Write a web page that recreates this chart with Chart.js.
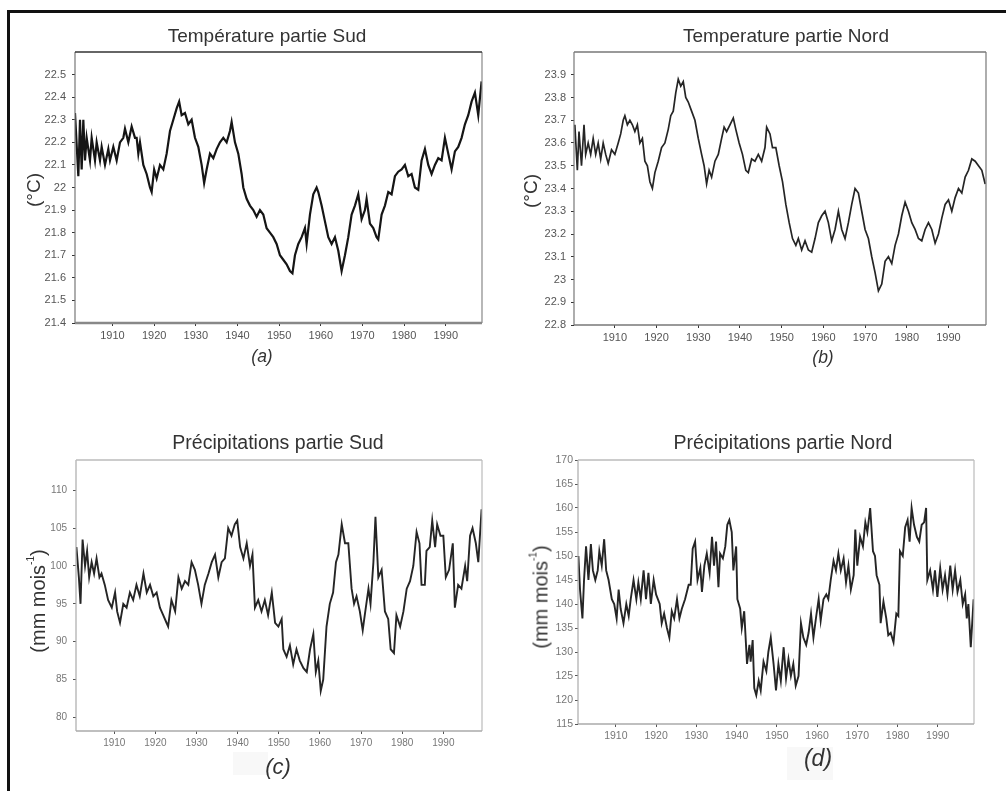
<!DOCTYPE html>
<html><head><meta charset="utf-8">
<script src="https://cdn.jsdelivr.net/npm/chart.js@4.4.1/dist/chart.umd.min.js"></script>
<style>
body{margin:0;background:#fff;width:1006px;height:791px;overflow:hidden;position:relative;font-family:"Liberation Sans",Arial,sans-serif;}
.t{position:absolute;white-space:nowrap;transform:translate(-50%,-50%);color:#333;}
.yl{position:absolute;white-space:nowrap;transform:translate(-50%,-50%) rotate(-90deg);color:#333;}
.cap{position:absolute;white-space:nowrap;transform:translate(-50%,-50%);color:#333;font-style:italic;}
canvas{position:absolute;}
#fT{position:absolute;left:7px;top:10px;width:999px;height:3px;background:#111;}
#fL{position:absolute;left:7px;top:10px;width:3px;height:781px;background:#111;}
sup{font-size:10px;vertical-align:top;position:relative;top:-2px;}
</style></head><body>
<div id="fT"></div><div id="fL"></div>

<canvas id="cA" width="480" height="310" style="left:15px;top:42px"></canvas>
<canvas id="cB" width="485" height="310" style="left:515px;top:42px"></canvas>
<canvas id="cC" width="480" height="310" style="left:15px;top:450px"></canvas>
<canvas id="cD" width="470" height="310" style="left:515px;top:450px"></canvas>

<div class="t" style="left:267px;top:36px;font-size:19px">Température partie Sud</div>
<div class="t" style="left:786px;top:36px;font-size:19px">Temperature partie Nord</div>
<div class="t" style="left:278px;top:442px;font-size:19.5px">Précipitations partie Sud</div>
<div class="t" style="left:783px;top:442px;font-size:19.5px">Précipitations partie Nord</div>

<div class="yl" style="left:34px;top:190px;font-size:19px">(°C)</div>
<div class="yl" style="left:531px;top:191px;font-size:19px">(°C)</div>
<div class="yl" style="left:38px;top:601px;font-size:20px">(mm mois<sup>-1</sup>)</div>
<div class="yl" style="left:541px;top:597px;font-size:20px">(mm mois<sup>-1</sup>)</div>

<div class="cap" style="left:262px;top:356px;font-size:17.5px">(a)</div>
<div class="cap" style="left:823px;top:357px;font-size:17.5px">(b)</div>
<div style="position:absolute;left:233px;top:752px;width:35px;height:23px;background:#f8f8f8"></div>
<div style="position:absolute;left:787px;top:747px;width:46px;height:33px;background:#f8f8f8"></div>
<div class="cap" style="left:278px;top:767px;font-size:22px">(c)</div>
<div class="cap" style="left:818px;top:758px;font-size:23px">(d)</div>

<script>
// ---------- DATA ----------
const xTicks = [1910,1920,1930,1940,1950,1960,1970,1980,1990];

const yTicksA = [21.4,21.5,21.6,21.7,21.8,21.9,22,22.1,22.2,22.3,22.4,22.5];
const yTicksB = [22.8,22.9,23,23.1,23.2,23.3,23.4,23.5,23.6,23.7,23.8,23.9];
const yTicksC = [80,85,90,95,100,105,110];
const yTicksD = [115,120,125,130,135,140,145,150,155,160,165,170];

const yearsA = [1901.0,1901.8,1902.2,1902.6,1903.0,1903.4,1903.8,1904.6,1905.0,1905.8,
1906.2,1907.0,1907.4,1908.2,1909.0,1909.4,1910.2,1911.0,1911.8,1912.6,
1913.0,1913.8,1914.6,1915.4,1915.8,1916.2,1916.6,1917.4,1918.2,1919.0,
1919.4,1920.0,1920.6,1921.4,1922.2,1923.0,1923.4,1923.8,1924.6,1925.4,
1926.0,1926.6,1927.4,1928.2,1929.0,1929.8,1930.6,1931.4,1932.0,1932.6,
1933.4,1934.2,1935.0,1935.8,1936.6,1937.4,1938.2,1938.6,1939.4,1940.2,
1941.0,1941.4,1942.2,1943.0,1943.8,1944.6,1945.4,1946.2,1947.0,1947.8,
1948.6,1949.4,1950.2,1951.0,1951.8,1952.6,1953.2,1953.8,1954.6,1955.4,
1956.2,1956.6,1957.4,1958.2,1959.0,1959.4,1960.2,1961.0,1961.8,1962.6,
1963.4,1964.2,1965.0,1965.8,1966.6,1967.4,1968.2,1969.0,1969.8,1970.6,
1971.0,1971.8,1972.6,1973.4,1973.8,1974.6,1975.4,1976.2,1977.0,1977.8,
1978.6,1979.4,1980.2,1981.0,1981.8,1982.6,1983.4,1984.2,1985.0,1985.8,
1986.6,1987.4,1988.2,1989.0,1989.8,1990.6,1991.4,1992.2,1993.0,1993.8,
1994.6,1995.4,1996.2,1997.0,1997.8,1998.6];
const tempSud = [22.33,22.05,22.30,22.08,22.30,22.12,22.22,22.12,22.22,22.12,
22.20,22.12,22.18,22.10,22.17,22.12,22.18,22.12,22.20,22.22,
22.26,22.20,22.27,22.22,22.22,22.15,22.20,22.10,22.06,22.00,
21.98,22.08,22.04,22.10,22.08,22.15,22.20,22.25,22.30,22.35,
22.38,22.32,22.33,22.28,22.30,22.22,22.18,22.10,22.02,22.08,
22.15,22.13,22.17,22.20,22.22,22.20,22.25,22.29,22.20,22.15,
22.06,22.00,21.95,21.92,21.90,21.87,21.90,21.88,21.82,21.80,
21.78,21.75,21.70,21.68,21.66,21.63,21.62,21.70,21.75,21.78,
21.82,21.75,21.88,21.97,22.00,21.98,21.92,21.85,21.78,21.75,
21.78,21.72,21.63,21.70,21.78,21.88,21.92,21.97,21.86,21.90,
21.95,21.84,21.82,21.78,21.77,21.88,21.92,21.98,21.97,22.05,
22.07,22.08,22.10,22.05,22.06,22.00,21.99,22.12,22.17,22.10,
22.06,22.10,22.13,22.12,22.22,22.15,22.08,22.16,22.18,22.22,
22.28,22.32,22.38,22.42,22.32,22.47];

const yearsB = [1900.4,1901.0,1901.4,1902.0,1902.6,1903.0,1903.6,1904.2,1904.8,1905.4,
1906.0,1906.6,1907.2,1907.8,1908.4,1909.2,1910.0,1910.8,1911.4,1912.0,
1912.4,1913.0,1913.6,1914.2,1914.8,1915.4,1916.0,1916.6,1917.2,1917.8,
1918.4,1919.0,1919.6,1920.4,1921.2,1922.0,1922.8,1923.4,1924.0,1924.6,
1925.2,1925.8,1926.4,1927.0,1927.6,1928.4,1929.2,1930.0,1930.8,1931.4,
1932.0,1932.6,1933.2,1934.0,1934.8,1935.6,1936.2,1936.8,1937.6,1938.4,
1939.0,1939.8,1940.6,1941.4,1942.0,1942.8,1943.6,1944.4,1945.2,1946.0,
1946.4,1947.2,1947.8,1948.6,1949.4,1950.2,1951.0,1951.8,1952.6,1953.4,
1954.0,1954.8,1955.6,1956.4,1957.2,1958.0,1958.8,1959.6,1960.4,1961.2,
1962.0,1962.8,1963.6,1964.4,1965.2,1966.0,1966.8,1967.6,1968.4,1969.2,
1970.0,1970.8,1971.6,1972.4,1973.2,1974.0,1974.8,1975.6,1976.4,1977.2,
1978.0,1978.8,1979.6,1980.4,1981.2,1982.0,1982.8,1983.6,1984.4,1985.2,
1986.0,1986.8,1987.6,1988.4,1989.2,1990.0,1990.8,1991.6,1992.4,1993.2,
1994.0,1994.8,1995.6,1996.4,1997.2,1998.0,1998.8];
const tempNord = [23.68,23.48,23.65,23.50,23.68,23.55,23.60,23.55,23.62,23.55,
23.60,23.53,23.60,23.55,23.51,23.57,23.55,23.60,23.64,23.70,
23.72,23.68,23.70,23.68,23.65,23.68,23.60,23.62,23.52,23.50,
23.43,23.40,23.47,23.52,23.58,23.60,23.66,23.72,23.74,23.82,
23.88,23.85,23.87,23.80,23.78,23.74,23.70,23.62,23.55,23.50,
23.42,23.48,23.45,23.52,23.55,23.62,23.67,23.65,23.68,23.71,
23.66,23.60,23.55,23.48,23.47,23.53,23.52,23.55,23.52,23.58,
23.67,23.64,23.58,23.58,23.50,23.43,23.33,23.25,23.18,23.15,
23.18,23.13,23.17,23.13,23.12,23.18,23.25,23.28,23.30,23.25,
23.17,23.22,23.30,23.22,23.18,23.25,23.33,23.40,23.38,23.30,
23.22,23.18,23.10,23.03,22.95,22.98,23.08,23.10,23.07,23.15,
23.20,23.28,23.34,23.30,23.25,23.22,23.18,23.17,23.22,23.25,
23.22,23.16,23.20,23.27,23.33,23.35,23.30,23.36,23.40,23.38,
23.45,23.48,23.53,23.52,23.50,23.48,23.42];

const yearsC = [1900.8,1901.4,1901.8,1902.3,1902.9,1903.4,1903.9,1904.5,1905.1,1905.7,
1906.4,1906.9,1907.7,1908.5,1909.4,1910.2,1910.7,1911.4,1912.2,1913.0,
1913.8,1914.6,1915.4,1916.2,1917.1,1917.9,1918.7,1919.5,1920.3,1921.1,
1921.9,1922.7,1923.1,1923.9,1924.8,1925.6,1926.4,1927.2,1928.0,1928.8,
1929.6,1930.4,1931.2,1932.0,1932.9,1933.7,1934.5,1935.3,1936.1,1936.9,
1937.7,1938.5,1939.3,1939.9,1940.6,1941.4,1942.2,1943.0,1943.6,1944.2,
1945.0,1945.8,1946.6,1947.4,1948.3,1949.1,1949.9,1950.7,1951.1,1951.9,
1952.7,1953.5,1954.3,1955.1,1956.0,1956.8,1957.6,1958.4,1959.0,1959.6,
1960.2,1960.8,1961.6,1962.4,1963.2,1963.9,1964.5,1965.3,1966.1,1966.9,
1967.7,1968.3,1968.9,1969.7,1970.4,1970.9,1971.8,1972.3,1973.0,1973.5,
1974.2,1975.0,1975.8,1976.6,1977.2,1978.0,1978.6,1979.5,1980.3,1981.1,
1981.9,1982.7,1983.5,1984.2,1984.7,1985.5,1985.9,1986.7,1987.3,1988.0,
1988.5,1989.3,1990.0,1990.6,1991.4,1992.3,1992.8,1993.6,1994.4,1995.3,
1995.8,1996.5,1997.1,1997.9,1998.5,1999.3];
const precipSud = [102.5,98.5,95.0,103.5,100.0,102.0,98.5,100.5,99.0,101.0,
98.5,99.0,97.5,95.5,94.5,96.5,94.0,92.5,95.0,94.5,
96.5,95.5,97.5,96.0,99.0,96.5,97.5,96.0,96.5,94.5,
93.5,92.5,92.0,95.5,94.0,98.5,97.0,98.0,97.5,100.5,
99.5,97.5,95.0,97.5,99.0,100.5,101.5,98.5,100.5,101.0,
105.0,104.0,105.5,106.0,102.5,101.0,103.0,100.0,101.5,94.5,
95.5,94.0,95.5,93.5,96.5,92.5,92.0,93.0,89.0,88.0,
89.5,87.0,89.0,87.5,86.5,86.0,89.0,91.0,86.0,87.5,
83.5,85.0,92.0,95.0,96.5,100.5,101.5,105.5,103.0,103.0,
97.0,95.0,96.0,94.0,91.5,93.5,97.0,95.0,100.5,106.5,
98.5,99.5,94.0,93.0,89.0,88.5,93.5,92.0,94.0,97.0,
98.0,100.0,104.5,103.0,97.5,97.5,102.0,102.5,106.0,102.5,
105.5,104.0,104.0,98.5,99.5,103.0,94.5,97.5,97.0,100.0,
98.0,104.0,105.0,103.0,100.5,107.5];

const yearsD = [1900.7,1901.1,1901.7,1902.1,1902.6,1903.2,1903.8,1904.3,1904.9,1905.5,
1905.9,1906.5,1907.1,1907.6,1908.2,1909.0,1909.6,1910.2,1910.7,1911.2,
1911.9,1912.6,1913.2,1913.7,1914.4,1915.1,1915.6,1916.2,1916.9,1917.5,
1918.1,1918.7,1919.4,1920.0,1920.9,1921.4,1922.0,1922.7,1923.3,1923.9,
1924.5,1925.2,1925.8,1926.4,1927.2,1928.1,1928.6,1929.1,1929.7,1930.3,
1931.0,1931.4,1932.0,1932.6,1933.3,1933.9,1934.4,1934.9,1935.5,1935.9,
1936.6,1937.2,1937.7,1938.2,1938.8,1939.2,1939.9,1940.2,1940.9,1941.3,
1941.9,1942.6,1943.2,1943.5,1944.0,1944.4,1944.9,1945.5,1946.0,1946.7,
1947.4,1947.9,1948.5,1949.2,1949.8,1950.4,1951.0,1951.7,1952.3,1952.9,
1953.5,1954.1,1954.7,1955.4,1956.0,1956.6,1957.3,1957.9,1958.5,1959.1,
1959.8,1960.4,1960.9,1961.6,1962.3,1962.8,1963.4,1964.1,1964.7,1965.3,
1965.9,1966.6,1967.2,1967.8,1968.4,1969.1,1969.5,1970.0,1970.7,1971.4,
1972.0,1972.5,1973.2,1973.9,1974.4,1974.8,1975.5,1975.8,1976.5,1977.2,
1977.7,1978.3,1979.0,1979.7,1980.2,1980.6,1981.3,1981.9,1982.5,1983.0,
1983.5,1984.1,1984.8,1985.4,1986.0,1986.6,1987.1,1987.4,1988.1,1988.8,
1989.3,1989.9,1990.6,1991.2,1991.8,1992.4,1993.1,1993.7,1994.3,1994.9,
1995.6,1996.2,1996.8,1997.2,1997.6,1998.2,1998.9];
const precipNord = [150,143,137,145,152,145,152.5,147,145,147,
151,148,153.5,147,145,141,140,137,143,139,
136,140,137.5,141,145,141,144.5,141,147,141,
146.5,140,145,142,140,136,138,135,133,138.5,
137,141,137,139,141,144,144,151.5,153,145,
147.5,142.5,148,150.5,146.5,154,148,153,143.5,150.5,
149.5,152,156.5,157.5,155,147,152,141,139,135,
138.5,127.5,131.5,128,132.5,122.5,121,124,122,128,
126,130,133,127.5,122,127.5,124,131,124.5,128.5,
125,127.5,123,125,136,133,131.5,134,138,133,
137.5,141,136.5,141,142,141,145,149,147,150.5,
147,149.5,144.5,148,143,146,155.5,148,154,152,
157,155,160,151,150,146,144,136,140.5,137,
133.5,134,132,138,137.5,151,150,156,157.5,153,
160,156.5,154,153,156.5,157,160,145,147,143,
147,141.5,147.5,143,146,142,148,143,147,142.5,
145,140,142,137,140,131,141];

// ---------- RENDER ----------
const framePlugin = {
  id: 'frame',
  afterDatasetsDraw(chart, args, o) {
    const {ctx, chartArea: a} = chart;
    ctx.save();
    ctx.lineWidth = o.width;
    ctx.strokeStyle = o.side;
    ctx.beginPath();
    ctx.moveTo(a.right, a.top); ctx.lineTo(a.right, a.bottom);
    ctx.stroke();
    ctx.strokeStyle = o.left;
    ctx.beginPath(); ctx.moveTo(a.left, a.top); ctx.lineTo(a.left, a.bottom); ctx.stroke();
    ctx.strokeStyle = o.bottom;
    ctx.lineWidth = o.bw;
    ctx.beginPath(); ctx.moveTo(a.left, a.bottom); ctx.lineTo(a.right, a.bottom); ctx.stroke();
    ctx.strokeStyle = o.top;
    ctx.lineWidth = o.tw;
    ctx.beginPath(); ctx.moveTo(a.left, a.top); ctx.lineTo(a.right, a.top); ctx.stroke();
    ctx.restore();
  }
};

function makeChart(id, years, vals, xr, yr, yTicks, L, st) {
  const pts = years.map((x, i) => ({x: x, y: vals[i]}));
  return new Chart(document.getElementById(id), {
    type: 'line',
    data: {datasets: [{data: pts, borderColor: st.line, borderWidth: st.lw, pointRadius: 0, tension: 0, fill: false, borderJoinStyle: 'miter'}]},
    plugins: [framePlugin],
    options: {
      responsive: false, animation: false, devicePixelRatio: 1,
      layout: {padding: {left: 0, right: L.pr, top: L.pt, bottom: 0}},
      plugins: {legend: {display: false}, tooltip: {enabled: false},
        frame: {width: 1.2, side: st.side, left: st.leftc, bottom: st.bottom, bw: st.bw, top: st.top, tw: st.tw}},
      scales: {
        x: {type: 'linear', min: xr[0], max: xr[1],
          afterBuildTicks: s => { s.ticks = xTicks.map(v => ({value: v})); },
          afterFit: s => { s.height = L.xh; s.paddingLeft = 0; s.paddingRight = 0; },
          border: {display: false},
          grid: {drawOnChartArea: false, drawTicks: true, tickLength: 3, color: st.tick, lineWidth: 1},
          ticks: {font: {family: 'Liberation Sans', size: L.fs}, color: st.label, padding: 3, maxRotation: 0, autoSkip: false,
            callback: v => String(v)}
        },
        y: {type: 'linear', min: yr[0], max: yr[1],
          afterBuildTicks: s => { s.ticks = yTicks.map(v => ({value: v})); },
          afterFit: s => { s.width = L.yw; s.paddingTop = 0; s.paddingBottom = 0; },
          border: {display: false},
          grid: {drawOnChartArea: false, drawTicks: true, tickLength: 3, color: st.tick, lineWidth: 1},
          ticks: {font: {family: 'Liberation Sans', size: L.fs}, color: st.label, padding: L.tp, autoSkip: false,
            callback: v => String(v)}
        }
      }
    }
  });
}

const stTemp = {line: '#151515', lw: 2.2, side: '#888', leftc: '#777', bottom: '#888', bw: 2.5, top: '#333', tw: 1.6, tick: '#333', label: '#555'};
const stTempB = {line: '#252525', lw: 1.7, side: '#777', leftc: '#777', bottom: '#777', bw: 1.5, top: '#777', tw: 1.4, tick: '#333', label: '#555'};
const stPrec = {line: '#252525', lw: 1.9, side: '#bbb', leftc: '#aaa', bottom: '#aaa', bw: 1.5, top: '#bbb', tw: 1.5, tick: '#555', label: '#777'};

makeChart('cA', yearsA, tempSud, [1901.0, 1998.7], [21.4, 22.6], yTicksA, {yw: 60, xh: 29, pr: 13, pt: 10, tp: 6, fs: 11}, stTemp);
makeChart('cB', yearsB, tempNord, [1900.2, 1999.0], [22.8, 24.0], yTicksB, {yw: 59, xh: 27, pr: 14, pt: 10, tp: 5, fs: 11}, stTempB);
makeChart('cC', yearsC, precipSud, [1900.7, 1999.4], [78.2, 114], yTicksC, {yw: 61, xh: 29, pr: 13, pt: 10, tp: 6, fs: 10}, stPrec);
makeChart('cD', yearsD, precipNord, [1900.6, 1999.0], [115, 170], yTicksD, {yw: 63, xh: 36, pr: 11, pt: 10, tp: 2, fs: 10.5}, stPrec);
</script>
</body></html>
